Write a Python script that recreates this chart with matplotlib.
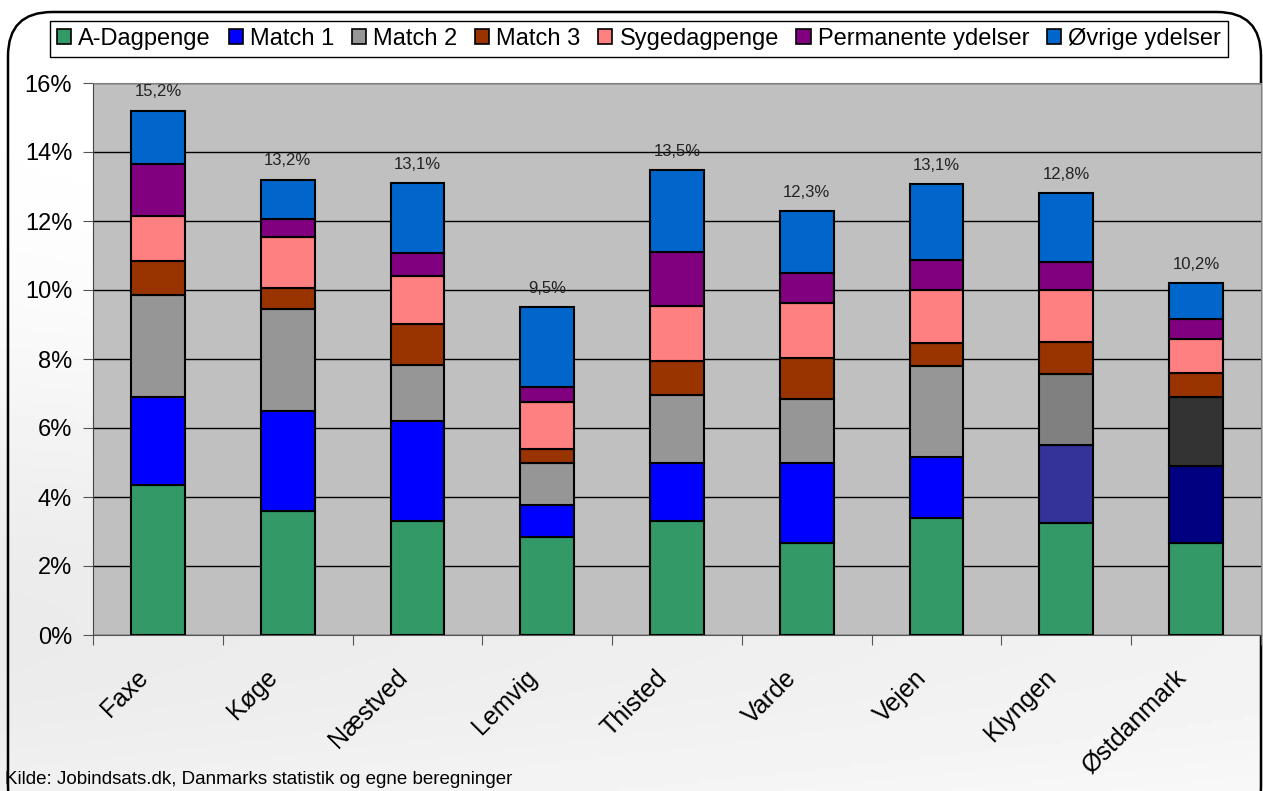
import numpy as np
import matplotlib
matplotlib.use("Agg")
import matplotlib.pyplot as plt
from matplotlib.patches import FancyBboxPatch, Patch

# ---------------------------------------------------------------------------
# data (share of population, %)
# ---------------------------------------------------------------------------
categories = ["Faxe", "Køge", "Næstved", "Lemvig", "Thisted",
              "Varde", "Vejen", "Klyngen", "Østdanmark"]
a_dagpenge = [4.35, 3.60, 3.30, 2.83, 3.30, 2.66, 3.40, 3.24, 2.66]
match1     = [2.55, 2.90, 2.90, 0.93, 1.70, 2.32, 1.75, 2.26, 2.25]
match2     = [2.95, 2.95, 1.62, 1.22, 1.95, 1.85, 2.66, 2.07, 1.98]
match3     = [1.00, 0.60, 1.20, 0.40, 1.00, 1.21, 0.65, 0.93, 0.70]
sygedag    = [1.30, 1.50, 1.40, 1.38, 1.60, 1.57, 1.54, 1.50, 0.98]
permanente = [1.50, 0.50, 0.65, 0.42, 1.55, 0.87, 0.87, 0.82, 0.58]
ovrige     = [1.55, 1.15, 2.02, 2.32, 2.37, 1.82, 2.20, 1.98, 1.05]
total_labels = ["15,2%", "13,2%", "13,1%", "9,5%", "13,5%",
                "12,3%", "13,1%", "12,8%", "10,2%"]
series_names = ["A-Dagpenge", "Match 1", "Match 2", "Match 3",
                "Sygedagpenge", "Permanente ydelser", "Øvrige ydelser"]
yticks = [0, 2, 4, 6, 8, 10, 12, 14, 16]

series = [a_dagpenge, match1, match2, match3, sygedag, permanente, ovrige]
colors = ["#339966", "#0000FF", "#969696", "#993300",
          "#FF8080", "#800080", "#0066CC"]
# Klyngen and Østdanmark use darker shades for Match 1 / Match 2
override = {
    ("Klyngen", 1): "#333399", ("Klyngen", 2): "#808080",
    ("Østdanmark", 1): "#000080", ("Østdanmark", 2): "#333333",
}

FONT = ["Liberation Sans", "DejaVu Sans"]
W, H = 1263, 791
fig = plt.figure(figsize=(W / 100, H / 100), dpi=100)

# background gradient + rounded frame
bg = fig.add_axes([0, 0, 1, 1], zorder=-10)
bg.axis("off")
yy = np.linspace(0, 1, 200)[:, None]
shade = 1.0 - 0.08 * np.exp(-((yy - 0.80) / 0.35) ** 2)
xx = np.linspace(0, 1, 200)[None, :]
shade = shade + 0.03 * xx
bg.imshow(np.clip(shade, 0, 1), cmap="gray", vmin=0, vmax=1,
          extent=[0, 1, 0, 1], aspect="auto")
bg.set_xlim(0, 1)
bg.set_ylim(0, 1)
frame = FancyBboxPatch((8 / W, -0.05), 1253 / W, (791 - 12) / H + 0.05,
                       boxstyle="round,pad=0,rounding_size=0.035",
                       transform=bg.transAxes, facecolor="none",
                       edgecolor="black", linewidth=1.8, clip_on=False,
                       mutation_aspect=W / H)
bg.add_patch(frame)

ax = fig.add_axes([93 / W, (H - 635) / H, (1261 - 93) / W, (635 - 83) / H])
ax.set_facecolor("#C0C0C0")

x = np.arange(len(categories))
bottom = np.zeros(len(categories))
for i, (vals, col, name) in enumerate(zip(series, colors, series_names)):
    cols = [override.get((c, i), col) for c in categories]
    ax.bar(x, vals, bottom=bottom, width=0.415, color=cols,
           edgecolor="black", linewidth=1.5, zorder=3)
    bottom += np.array(vals)

for xi, tot, lab in zip(x, bottom, total_labels):
    ax.annotate(lab, (xi, tot), xytext=(0, 8), textcoords="offset points",
                ha="center", va="bottom", fontsize=12, color="#222222",
                family=FONT, zorder=4)

ax.set_xlim(-0.5, len(categories) - 0.5)
ax.set_ylim(0, 16)
ax.set_yticks(yticks)
ax.set_yticklabels([f"{t}%" for t in yticks], fontsize=17, family=FONT)
ax.yaxis.grid(True, color="black", linewidth=1.0, zorder=1)
ax.set_axisbelow(True)

# ticks at category boundaries, labels rotated below each bar
ax.set_xticks(np.arange(len(categories) + 1) - 0.5)
ax.set_xticklabels([])
for xi, name in zip(x, categories):
    ax.annotate(name, (xi, 0), xycoords=ax.get_xaxis_transform(),
                xytext=(-10, -28), textcoords="offset points",
                rotation=45, rotation_mode="anchor", ha="right", va="center",
                fontsize=18, family=FONT, annotation_clip=False)
ax.tick_params(axis="x", which="major", length=7, color="#555555",
               direction="out")
ax.tick_params(axis="y", length=7, direction="out", color="#555555", pad=8)

for side in ["top", "right"]:
    ax.spines[side].set_color("#808080")
ax.spines["left"].set_color("#444444")
ax.spines["bottom"].set_color("#555555")

handles = [Patch(facecolor=c, edgecolor="black", linewidth=1.2)
           for c in colors]
leg = fig.legend(handles, series_names, ncol=7,
                 loc="center", bbox_to_anchor=((49 + 1229) / 2 / W, 1 - 39 / H),
                 frameon=True, fancybox=False,
                 edgecolor="black", framealpha=1,
                 handlelength=0.6, handleheight=0.6, handletextpad=0.3,
                 columnspacing=0.75, borderpad=0.3,
                 prop={"family": FONT, "size": 17})
leg.get_frame().set_linewidth(1.0)

fig.text(5 / W, 3 / H, "Kilde: Jobindsats.dk, Danmarks statistik og egne beregninger",
         fontsize=13.5, ha="left", va="bottom", family=FONT)

fig.savefig("out.png", dpi=100)
